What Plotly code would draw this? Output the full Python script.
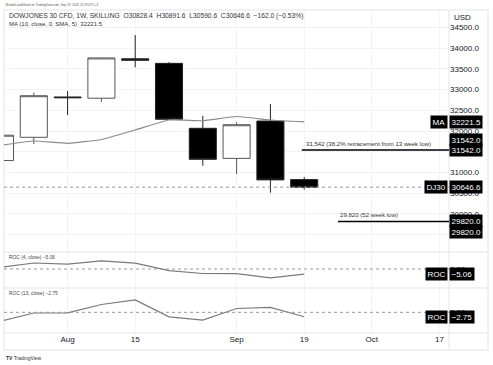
import plotly.graph_objects as go
from plotly.subplots import make_subplots

# ---------------- data ----------------
weeks = ["2022-07-18", "2022-07-25", "2022-08-01", "2022-08-08", "2022-08-15",
         "2022-08-22", "2022-08-29", "2022-09-05", "2022-09-12", "2022-09-19"]
open_ = [31290, 31848, 32820, 32790, 33740, 33630, 32065, 31340, 32240, 30828.4]
high = [32040, 32923, 32964, 33770, 34313, 33660, 32361, 32210, 32650, 30891.6]
low = [31170, 31686, 32385, 32700, 33535, 32270, 31163, 30963, 30513, 30590.6]
close = [31899, 32850, 32803, 33761, 33706, 32283, 31318, 32151, 30822, 30646.6]
ma10 = [31650, 31759, 31703, 31795, 32024, 32265, 32248, 32349, 32265, 32221.5]
roc4 = [1.5, 6.0, 4.8, 8.2, 5.8, -1.7, -4.5, -4.6, -8.8, -5.06]
roc13 = [-5.6, -0.4, -0.3, 4.9, 7.8, -2.8, -4.8, 2.4, 3.1, -2.75]

last_close = 30646.6
ma_last = 32221.5
retrace_level = 31542.0
low52_level = 29820.0

time_tickvals = ["2022-08-01", "2022-08-15", "2022-09-05", "2022-09-19", "2022-10-03", "2022-10-17"]
time_ticktext = ["Aug", "15", "Sep", "19", "Oct", "17"]
price_ticks = [29500, 30000, 30500, 31000, 31500, 32000, 32500, 33000, 33500, 34000, 34500]

# ---------------- layout helpers ----------------
W, H = 493, 365
L, R, T, B = 4, 449, 10, 333   # plot area pixel bounds


def px(q):
    return (q - L) / (R - L)


def py(p):
    return (B - p) / (B - T)


FONT = "Liberation Sans"
TXT = "#131722"
GRID = "#f0f3fa"
BORDER = "#e0e3eb"

fig = make_subplots(rows=3, cols=1, shared_xaxes=True, vertical_spacing=0)

fig.add_trace(go.Candlestick(
    x=weeks, open=open_, high=high, low=low, close=close,
    increasing=dict(line=dict(color="#555555", width=1), fillcolor="white"),
    decreasing=dict(line=dict(color="#222222", width=1), fillcolor="black"),
    whiskerwidth=0, showlegend=False, hoverinfo="skip"), row=1, col=1)

fig.add_trace(go.Scatter(x=weeks, y=ma10, mode="lines",
                         line=dict(color="#8a8a8a", width=1.2, shape="spline", smoothing=0.4),
                         showlegend=False, hoverinfo="skip"), row=1, col=1)

fig.add_trace(go.Scatter(x=weeks, y=roc4, mode="lines",
                         line=dict(color="#7a7a7a", width=1.2),
                         showlegend=False, hoverinfo="skip"), row=2, col=1)

fig.add_trace(go.Scatter(x=weeks, y=roc13, mode="lines",
                         line=dict(color="#7a7a7a", width=1.2),
                         showlegend=False, hoverinfo="skip"), row=3, col=1)

x_range = ["2022-07-18 19:53", "2022-10-18 23:40"]

for i, ax in enumerate(["xaxis", "xaxis2", "xaxis3"]):
    fig.layout[ax].update(
        range=x_range, type="date", tickvals=time_tickvals, ticktext=time_ticktext,
        showgrid=True, gridcolor=GRID, gridwidth=1, zeroline=False, showline=False,
        ticks="", showticklabels=(ax == "xaxis3"), rangeslider=dict(visible=False),
        tickfont=dict(family=FONT, size=8, color=TXT))

fig.layout.yaxis.update(
    domain=[py(252), 1], range=[29084, 34916], side="right",
    tickvals=price_ticks, tickformat=".1f", showgrid=True, gridcolor=GRID,
    zeroline=False, showline=False, ticks="", tickfont=dict(family=FONT, size=8, color=TXT))
fig.layout.yaxis2.update(
    domain=[py(288), py(252)], range=[-19, 17], side="right",
    tickvals=[0], ticktext=["0.00"], showgrid=False, zeroline=False, showline=False,
    ticks="", tickfont=dict(family=FONT, size=8, color=TXT))
fig.layout.yaxis3.update(
    domain=[0, py(288)], range=[-12.9, 15.2], side="right",
    tickvals=[0], ticktext=["0.00"], showgrid=False, zeroline=False, showline=False,
    ticks="", tickfont=dict(family=FONT, size=8, color=TXT))

shapes = []
# outer box and separators
shapes.append(dict(type="rect", xref="paper", yref="paper", x0=px(4), x1=px(488),
                   y0=py(350), y1=py(10), line=dict(color=BORDER, width=1), layer="below"))
for yy in (252, 288, 333):
    shapes.append(dict(type="line", xref="paper", yref="paper", x0=px(4), x1=px(488),
                       y0=py(yy), y1=py(yy), line=dict(color=BORDER, width=1)))
shapes.append(dict(type="line", xref="paper", yref="paper", x0=1, x1=1,
                   y0=py(350), y1=py(10), line=dict(color=BORDER, width=1)))
# last price dotted line
shapes.append(dict(type="line", xref="paper", yref="y", x0=0, x1=1,
                   y0=last_close, y1=last_close, line=dict(color="#9a9a9a", width=1, dash="dot")))
# roc zero lines
shapes.append(dict(type="line", xref="paper", yref="y2", x0=0, x1=1, y0=0, y1=0,
                   line=dict(color="#9a9a9a", width=1, dash="dot")))
shapes.append(dict(type="line", xref="paper", yref="y3", x0=0, x1=1, y0=0, y1=0,
                   line=dict(color="#9a9a9a", width=1, dash="dot")))
# horizontal level lines
shapes.append(dict(type="line", xref="x", yref="y", x0="2022-09-18 12:00", x1=x_range[1],
                   y0=retrace_level, y1=retrace_level, line=dict(color="black", width=1.5)))
shapes.append(dict(type="line", xref="x", yref="y", x0="2022-09-26", x1=x_range[1],
                   y0=low52_level, y1=low52_level, line=dict(color="black", width=1.5)))

annotations = []


def txt(x, y, text, size=6, color="#555", xanchor="left", **kw):
    annotations.append(dict(x=px(x), y=py(y), xref="paper", yref="paper", text=text,
                            showarrow=False, xanchor=xanchor, yanchor="middle",
                            font=dict(family=FONT, size=size, color=color), **kw))


txt(3, 5, "JKnobel published on TradingView.com, Sep 19, 2022 11:19 UTC+3", size=3.1, color="#555")
txt(7, 16, "DOWJONES 30 CFD, 1W, SKILLING  O30828.4  H30891.6  L30590.6  C30646.6  −162.0 (−0.53%)",
    size=6.7, color="#333")
txt(7, 24, "MA (10, close, 0, SMA, 5)  32221.5", size=6, color="#333")
txt(7, 257, "ROC (4, close) −5.06", size=4.9, color="#444")
txt(7, 293, "ROC (13, close) −2.75", size=4.9, color="#444")
txt(4, 358, "<b>TV</b> TradingView", size=5, color="#333")
txt(452, 18, "USD", size=8, color=TXT, bgcolor="white", borderpad=1)

# level texts
annotations.append(dict(x="2022-09-19", y=retrace_level, xref="x", yref="y",
                        text="31,542 (38.2% retracement from 13 week low)", showarrow=False,
                        xanchor="left", yanchor="bottom", yshift=1,
                        font=dict(family=FONT, size=6.1, color="#333")))
annotations.append(dict(x="2022-09-26", y=low52_level, xref="x", yref="y",
                        text="29,820 (52 week low)", showarrow=False,
                        xanchor="left", yanchor="bottom", yshift=1,
                        font=dict(family=FONT, size=6.1, color="#333")))


def badge(yref, y, text, xanchor="left", x=1.0, yshift=0):
    annotations.append(dict(x=x, y=y, xref="paper", yref=yref, text=text, showarrow=False,
                            xanchor=xanchor, yanchor="middle", yshift=yshift,
                            bgcolor="black", borderpad=1.5,
                            font=dict(family=FONT, size=8, color="white")))


badge("y", ma_last, "MA", xanchor="right", x=px(448))
badge("y", ma_last, "32221.5")
badge("y", retrace_level, "31542.0", yshift=10.5)
badge("y", retrace_level, "31542.0")
badge("y", last_close, "DJ30", xanchor="right", x=px(448))
badge("y", last_close, "30646.6")
badge("y", low52_level, "29820.0")
badge("y", low52_level, "29820.0", yshift=-11)
badge("y2", roc4[-1], "ROC", xanchor="right", x=px(448))
badge("y2", roc4[-1], "−5.06")
badge("y3", roc13[-1], "ROC", xanchor="right", x=px(448))
badge("y3", roc13[-1], "−2.75")

fig.update_layout(
    width=W, height=H, margin=dict(l=L, r=W - R, t=T, b=H - B),
    paper_bgcolor="white", plot_bgcolor="white", boxgap=0.2, boxgroupgap=0,
    shapes=shapes, annotations=annotations, showlegend=False,
    font=dict(family=FONT, color=TXT))

fig.write_html("out.html", config={"displayModeBar": False},
               post_script="document.body.style.margin='0';document.body.style.overflow='hidden';")
